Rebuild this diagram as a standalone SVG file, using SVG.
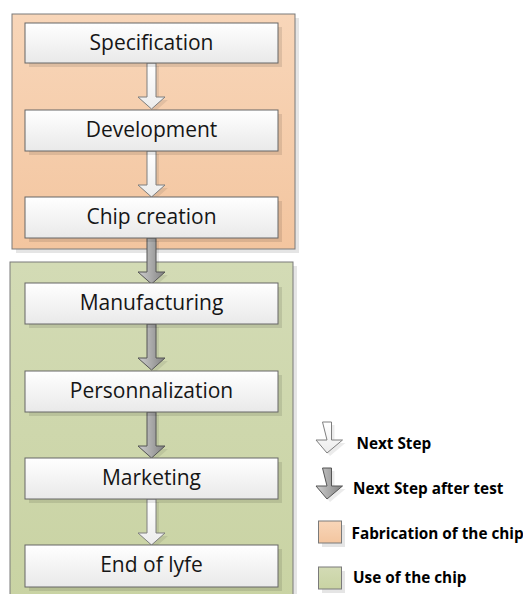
<svg xmlns="http://www.w3.org/2000/svg" width="523" height="594" viewBox="0 0 523 594">
<defs>
<linearGradient id="gBox" x1="0" y1="0" x2="0" y2="1"><stop offset="0" stop-color="#ffffff"/><stop offset="1" stop-color="#e9e9e9"/></linearGradient>
<linearGradient id="gOrange" x1="0" y1="0" x2="0" y2="1"><stop offset="0" stop-color="#f8d6b9"/><stop offset="1" stop-color="#f3c59f"/></linearGradient>
<linearGradient id="gGreen" x1="0" y1="0" x2="0" y2="1"><stop offset="0" stop-color="#d3dbb5"/><stop offset="1" stop-color="#c9d3a3"/></linearGradient>
<linearGradient id="gWhiteArrow" x1="0" y1="0" x2="0" y2="1"><stop offset="0" stop-color="#ffffff"/><stop offset="1" stop-color="#ececec"/></linearGradient>
<linearGradient id="gGrayArrow" x1="0" y1="0" x2="1" y2="0"><stop offset="0" stop-color="#cfcfcf"/><stop offset="0.5" stop-color="#a9a9a9"/><stop offset="1" stop-color="#808080"/></linearGradient>
<path id="arr" d="M-4.5,0 h9 v34 h9 L0,46 L-13.5,34 h9 Z"/>
<path id="larr" d="M-4.5,0 h9 v18 h11 L0,31 L-11,18 h11 Z"/>
</defs>
<style>
.region{stroke:#7a7a7a;stroke-width:1}
.shadow{fill:#000;fill-opacity:0.1}
.box{fill:url(#gBox);stroke:#666666;stroke-width:1}
.lbl{font-family:"Open Sans","Noto Sans",sans-serif;font-size:21px;fill:#161616;text-anchor:middle}
.leg{font-family:"Open Sans","Noto Sans",sans-serif;font-size:15.3px;font-weight:bold;fill:#000}
.wa{fill:url(#gWhiteArrow);stroke:#7f7f7f;stroke-width:1}
.ga{fill:url(#gGrayArrow);stroke:#555555;stroke-width:1}
.ash{fill:#000;fill-opacity:0.08}
</style>

<g id="region-fabrication">
<rect class="shadow" x="16" y="18" width="283" height="235"/>
<rect class="region" x="12" y="14" width="283" height="235" fill="url(#gOrange)"/>
</g>
<g id="region-use">
<rect class="shadow" x="14" y="266" width="283" height="340"/>
<rect class="region" x="10" y="262" width="283" height="340" fill="url(#gGreen)"/>
</g>

<g id="connectors">
<use href="#arr" class="ash" transform="translate(154.5,66)"/>
<use href="#arr" class="wa" transform="translate(151.5,63)"/>
<use href="#arr" class="ash" transform="translate(154.5,154)"/>
<use href="#arr" class="wa" transform="translate(151.5,151)"/>
<use href="#arr" class="ash" transform="translate(154.5,241)"/>
<use href="#arr" class="ga" transform="translate(151.5,238)"/>
<use href="#arr" class="ash" transform="translate(154.5,327)"/>
<use href="#arr" class="ga" transform="translate(151.5,324)"/>
<use href="#arr" class="ash" transform="translate(154.5,415)"/>
<use href="#arr" class="ga" transform="translate(151.5,412)"/>
<use href="#arr" class="ash" transform="translate(154.5,502)"/>
<use href="#arr" class="wa" transform="translate(151.5,499)"/>
</g>

<g id="node-specification">
<rect class="shadow" x="29" y="27" width="253" height="40"/>
<rect class="box" x="25" y="23" width="253" height="40"/>
<text class="lbl" x="151.5" y="50">Specification</text>
</g>
<g id="node-development">
<rect class="shadow" x="29" y="114" width="253" height="41"/>
<rect class="box" x="25" y="110" width="253" height="41"/>
<text class="lbl" x="151.5" y="137">Development</text>
</g>
<g id="node-chip-creation">
<rect class="shadow" x="29" y="201" width="253" height="41"/>
<rect class="box" x="25" y="197" width="253" height="41"/>
<text class="lbl" x="151.5" y="224">Chip creation</text>
</g>
<g id="node-manufacturing">
<rect class="shadow" x="29" y="287" width="253" height="41"/>
<rect class="box" x="25" y="283" width="253" height="41"/>
<text class="lbl" x="151.5" y="310">Manufacturing</text>
</g>
<g id="node-personnalization">
<rect class="shadow" x="29" y="375" width="253" height="41"/>
<rect class="box" x="25" y="371" width="253" height="41"/>
<text class="lbl" x="151.5" y="398">Personnalization</text>
</g>
<g id="node-marketing">
<rect class="shadow" x="29" y="462" width="253" height="41"/>
<rect class="box" x="25" y="458" width="253" height="41"/>
<text class="lbl" x="151.5" y="485">Marketing</text>
</g>
<g id="node-end-of-lyfe">
<rect class="shadow" x="29" y="549" width="253" height="42"/>
<rect class="box" x="25" y="545" width="253" height="42"/>
<text class="lbl" x="151.5" y="572">End of lyfe</text>
</g>

<g id="legend">
<use href="#larr" class="ash" transform="translate(330,425)"/>
<use href="#larr" class="wa" transform="translate(327,422)"/>
<text class="leg" x="356.5" y="448.5">Next Step</text>
<use href="#larr" class="ash" transform="translate(330,471)"/>
<use href="#larr" class="ga" transform="translate(327,468)"/>
<text class="leg" x="353" y="493.5">Next Step after test</text>
<rect class="shadow" x="322" y="525" width="23" height="22"/>
<rect class="region" x="318.5" y="521" width="23" height="22" fill="url(#gOrange)"/>
<text class="leg" x="351.5" y="539">Fabrication of the chip</text>
<rect class="shadow" x="322" y="571" width="23" height="22"/>
<rect class="region" x="318.5" y="567" width="23" height="22" fill="url(#gGreen)"/>
<text class="leg" x="353" y="583">Use of the chip</text>
</g>
</svg>
